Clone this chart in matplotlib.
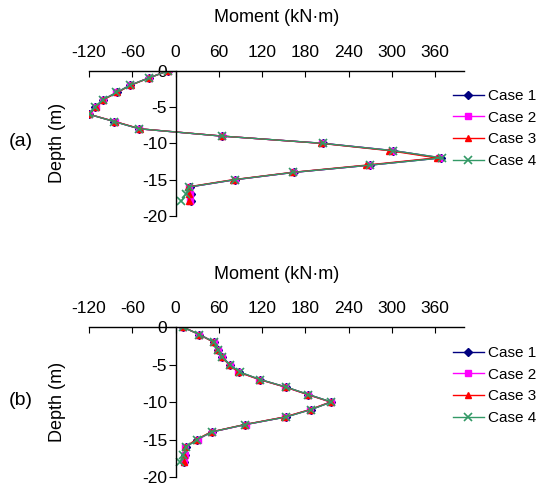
import matplotlib
matplotlib.use("Agg")
import matplotlib.pyplot as plt

plt.rcParams['font.family'] = ['Liberation Sans', 'DejaVu Sans']
plt.rcParams['axes.unicode_minus'] = False

depth = [0, -1, -2, -3, -4, -5, -6, -7, -8, -9, -10, -11, -12, -13, -14, -15, -16, -17, -18]

# Panel (a)
a_case1 = [-10, -37, -63, -81, -101, -111, -120, -85, -50, 64, 205, 302, 368, 270, 164, 83, 20, 21, 21]
a_case2 = [-10, -37, -63, -82, -101, -110, -120, -84, -50, 64, 203, 300, 366, 268, 163, 82, 19, 20, 20]
a_case3 = [-10, -37, -62, -81, -100, -110, -120, -84, -49, 65, 202, 296, 362, 264, 161, 80, 17, 18, 19]
a_case4 = [-10, -37, -63, -82, -101, -111, -120, -85, -50, 64, 204, 301, 370, 269, 163, 82, 19, 14, 8]

# Panel (b)
b_case1 = [10, 33, 53, 59, 65, 75, 88, 117, 153, 184, 216, 188, 153, 97, 50, 30, 14, 13, 12]
b_case2 = [10, 33, 53, 59, 64, 75, 87, 116, 152, 183, 215, 187, 152, 98, 50, 31, 13, 13, 12]
b_case3 = [10, 33, 52, 58, 64, 74, 87, 116, 152, 183, 215, 187, 151, 96, 49, 29, 13, 12, 12]
b_case4 = [10, 33, 53, 59, 65, 75, 89, 117, 153, 184, 216, 188, 153, 97, 50, 30, 15, 11, 6]

case_labels = ['Case 1', 'Case 2', 'Case 3', 'Case 4']
x_ticks = [-120, -60, 0, 60, 120, 180, 240, 300, 360]
y_ticks = [0, -5, -10, -15, -20]

styles = [
    dict(color='#000080', marker='D', markersize=4),
    dict(color='#FF00FF', marker='s', markersize=4.5),
    dict(color='#FF0000', marker='^', markersize=5),
    dict(color='#339966', marker='x', markersize=6, markeredgewidth=1.2),
]

fig = plt.figure(figsize=(5.41, 4.86), dpi=100)
W, H = 541, 486


def make_panel(rect, series, tag, tag_y, legend_top):
    left, top, right, bottom = rect
    ax = fig.add_axes([left / W, 1 - bottom / H, (right - left) / W, (bottom - top) / H])
    for vals, lab, st in zip(series, case_labels, styles):
        ax.plot(vals, depth, label=lab, linewidth=1.0, **st)
    ax.set_xlim(-120, 400)
    ax.set_ylim(-20, 0)
    ax.spines['bottom'].set_visible(False)
    ax.spines['right'].set_visible(False)
    ax.spines['left'].set_position(('data', 0))
    for s in ('left', 'top'):
        ax.spines[s].set_linewidth(1.0)
    ax.xaxis.tick_top()
    ax.xaxis.set_label_position('top')
    ax.set_xticks(x_ticks)
    ax.set_xticklabels([str(v) for v in x_ticks])
    ax.set_yticks(y_ticks)
    ax.set_yticklabels([str(v) for v in y_ticks])
    ax.tick_params(axis='x', direction='in', length=4, pad=8, labelsize=12.5)
    ax.tick_params(axis='y', direction='out', length=5, pad=1, labelsize=12.5)
    ax.set_xlabel('Moment (kN·m)', fontsize=13)
    ax.xaxis.set_label_coords(0.5, (bottom - (top - 53)) / (bottom - top))
    ax.xaxis.label.set_va('center')
    ax.set_ylabel('Depth (m)', fontsize=13)
    ax.yaxis.set_label_coords((57 - left) / (right - left), 0.5)
    ax.yaxis.label.set_va('center')
    ax.patch.set_visible(False)
    fig.text(21 / W, 1 - tag_y / H, tag, fontsize=14, ha='center', va='center')
    ax.legend(loc='upper left', bbox_to_anchor=(453 / W, 1 - legend_top / H),
              bbox_transform=fig.transFigure, frameon=False, fontsize=11,
              borderpad=0, borderaxespad=0, handlelength=2.0, handletextpad=0.3,
              labelspacing=0.5)
    return ax


make_panel((89, 70.7, 464, 216), [a_case1, a_case2, a_case3, a_case4], '(a)', 142, 89)
make_panel((89, 327, 464, 477), [b_case1, b_case2, b_case3, b_case4], '(b)', 400, 346)

fig.savefig('out.png', dpi=100)
